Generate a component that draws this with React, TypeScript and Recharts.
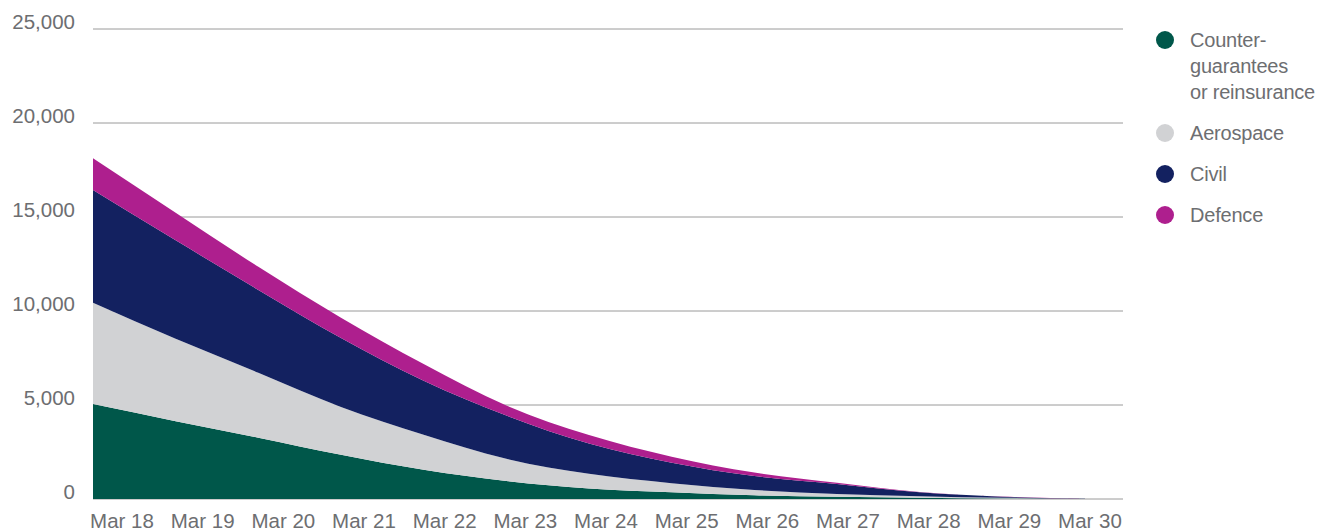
import React from "react";
import { AreaChart, Area, XAxis, YAxis, CartesianGrid } from "recharts";

const dates = ["Mar 18", "Mar 19", "Mar 20", "Mar 21", "Mar 22", "Mar 23", "Mar 24", "Mar 25", "Mar 26", "Mar 27", "Mar 28", "Mar 29", "Mar 30"];
const counterGuarantees = [5050, 4140, 3260, 2350, 1550, 960, 560, 360, 195, 120, 70, 30, 2];
const aerospace = [5390, 4380, 3460, 2550, 1870, 1180, 780, 480, 285, 146, 75, 30, 3];
const civil = [6000, 5240, 4400, 3660, 2870, 2300, 1610, 1090, 740, 534, 210, 64, 5];
const defence = [1680, 1470, 1230, 1080, 890, 535, 450, 320, 185, 60, 15, 6, 0];
const yTicks = [0, 5000, 10000, 15000, 20000, 25000];

const seriesKeys = ["counter", "aerospace", "civil", "defence"];
const seriesNames = ["Counter-guarantees or reinsurance", "Aerospace", "Civil", "Defence"];
const seriesColors = ["#00574a", "#d1d2d4", "#132160", "#ae1f8e"];
const legendLines = [["Counter-", "guarantees", "or reinsurance"], ["Aerospace"], ["Civil"], ["Defence"]];

const data = dates.map((date, i) => ({
  date,
  counter: counterGuarantees[i],
  aerospace: aerospace[i],
  civil: civil[i],
  defence: defence[i],
}));

const FONT = "'Liberation Sans', Arial, Helvetica, sans-serif";
const TEXT = "#6d6e71";
const FS = 20.5;

const YTick = (props: any) => (
  <text
    x={props.x}
    y={props.y}
    dy={-8}
    textAnchor="end"
    dominantBaseline="central"
    fill={TEXT}
    fontSize={FS}
    fontFamily={FONT}
  >
    {Number(props.payload.value).toLocaleString("en-US")}
  </text>
);

const XTick = (props: any) => (
  <text
    x={props.x}
    y={props.y}
    dy="0.71em"
    textAnchor="middle"
    fill={TEXT}
    fontSize={FS}
    fontFamily={FONT}
  >
    {props.payload.value}
  </text>
);

const ChartLegend = () => (
  <div
    style={{
      position: "absolute",
      left: 1148,
      top: 19,
      fontFamily: FONT,
      fontSize: 20,
      letterSpacing: -0.2,
      color: TEXT,
      lineHeight: "26px",
    }}
  >
    {seriesNames.map((name, i) => (
      <div key={name} style={{ display: "flex", alignItems: "flex-start", marginBottom: 15 }}>
        <div
          style={{
            width: 18,
            height: 18,
            borderRadius: 9,
            background: seriesColors[i],
            marginTop: 4,
            marginRight: 16,
            flex: "none",
          }}
        />
        <div>
          {legendLines[i].map((l) => (
            <div key={l} style={{ whiteSpace: "nowrap" }}>{l}</div>
          ))}
        </div>
      </div>
    ))}
  </div>
);

export default function App() {
  return (
    <div style={{ position: "relative", width: 1308, height: 523 }}>
      <AreaChart
        width={1308}
        height={523}
        data={data}
        margin={{ top: 21, right: 193, left: 0, bottom: 0 }}
      >
        <CartesianGrid horizontal vertical={false} stroke="#9a9a9a" strokeWidth={1} />
        <XAxis xAxisId="main" dataKey="date" hide padding={{ left: 0, right: 38 }} />
        <XAxis
          xAxisId="labels"
          dataKey="date"
          height={32}
          axisLine={false}
          tickLine={false}
          tickSize={0}
          tickMargin={14}
          interval={0}
          padding={{ left: 29, right: 33 }}
          tick={<XTick />}
        />
        <YAxis
          width={85}
          domain={[0, 25000]}
          ticks={yTicks}
          axisLine={false}
          tickLine={false}
          tickSize={0}
          tickMargin={18}
          tick={<YTick />}
        />
        {seriesKeys.map((k, i) => (
          <Area
            key={k}
            xAxisId="main"
            type="monotone"
            dataKey={k}
            name={seriesNames[i]}
            stackId="1"
            stroke="none"
            fill={seriesColors[i]}
            fillOpacity={1}
            isAnimationActive={false}
          />
        ))}
      </AreaChart>
      <ChartLegend />
    </div>
  );
}
